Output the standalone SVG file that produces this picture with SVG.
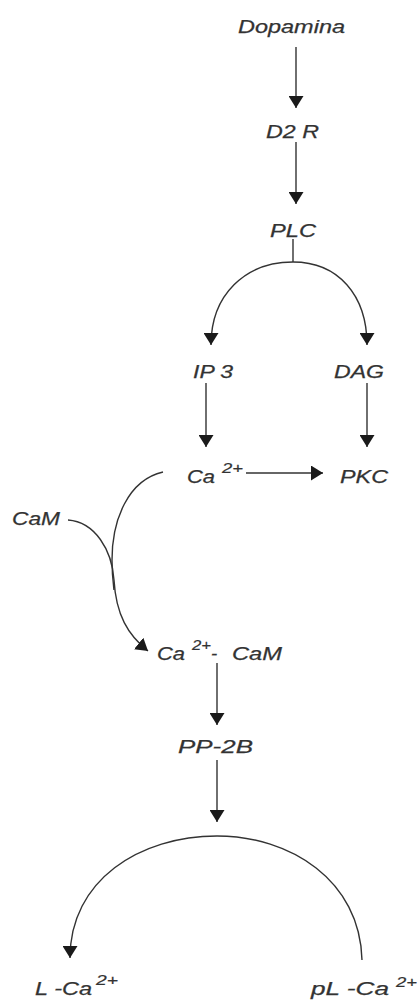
<svg xmlns="http://www.w3.org/2000/svg" width="418" height="1001" viewBox="0 0 418 1001">
<defs>
<style>
.t{font-family:"Liberation Sans",Arial,sans-serif;font-style:italic;font-size:18.5px;fill:#333333;stroke:#333333;stroke-width:0.25}
.s{font-family:"Liberation Sans",Arial,sans-serif;font-style:italic;font-size:15px;fill:#333333;stroke:#333333;stroke-width:0.2}
.c{fill:none;stroke:#333333;stroke-width:1.4}
</style>
<marker id="ah" viewBox="0 0 12 15" refX="12" refY="7.5" markerWidth="12" markerHeight="15" markerUnits="userSpaceOnUse" orient="auto">
<path d="M0,0 L12,7.5 L0,15 z" fill="#1a1a1a"/>
</marker>
</defs>
<rect width="418" height="1001" fill="#ffffff"/>
<g id="connectors">
<path class="c" d="M296,47 L296,108" marker-end="url(#ah)"/>
<path class="c" d="M296,142 L296,204" marker-end="url(#ah)"/>
<path class="c" d="M293,239 L293,262"/>
<path class="c" d="M293,262 C245,262 211,295 211,345" marker-end="url(#ah)"/>
<path class="c" d="M293,262 C338,262 367,295 367,345" marker-end="url(#ah)"/>
<path class="c" d="M206,383 L206,447" marker-end="url(#ah)"/>
<path class="c" d="M367,383 L367,447" marker-end="url(#ah)"/>
<path class="c" d="M246,473 L323,473" marker-end="url(#ah)"/>
<path class="c" d="M163,472 C128,480 112,520 112,560 C112,575 113,582 114,590"/>
<path class="c" d="M68,520 C95,522 112,550 114,580 C116,615 128,635 148,651" marker-end="url(#ah)"/>
<path class="c" d="M217,663 L217,725" marker-end="url(#ah)"/>
<path class="c" d="M217,760 L217,822" marker-end="url(#ah)"/>
<path class="c" d="M217,836 C140,836 70,880 70,958" marker-end="url(#ah)"/>
<path class="c" d="M217,836 C290,836 360,880 362,960"/>
</g>
<g id="dopamina"><text class="t" x="238" y="33" textLength="107" lengthAdjust="spacingAndGlyphs">Dopamina</text></g>
<g id="d2r"><text class="t" x="266" y="138" textLength="53" lengthAdjust="spacingAndGlyphs">D2 R</text></g>
<g id="plc"><text class="t" x="270" y="237" textLength="46" lengthAdjust="spacingAndGlyphs">PLC</text></g>
<g id="ip3"><text class="t" x="193" y="378" textLength="40" lengthAdjust="spacingAndGlyphs">IP 3</text></g>
<g id="dag"><text class="t" x="334" y="378" textLength="50" lengthAdjust="spacingAndGlyphs">DAG</text></g>
<g id="ca2"><text class="t" x="187" y="483" textLength="28" lengthAdjust="spacingAndGlyphs">Ca</text><text class="s" x="222" y="473" textLength="21" lengthAdjust="spacingAndGlyphs">2+</text></g>
<g id="pkc"><text class="t" x="340" y="483" textLength="48" lengthAdjust="spacingAndGlyphs">PKC</text></g>
<g id="cam"><text class="t" x="12" y="525" textLength="48" lengthAdjust="spacingAndGlyphs">CaM</text></g>
<g id="ca2cam"><text class="t" x="157" y="660" textLength="28" lengthAdjust="spacingAndGlyphs">Ca</text><text class="s" x="192" y="650" textLength="19" lengthAdjust="spacingAndGlyphs">2+</text><text class="t" x="211" y="660">-</text><text class="t" x="232" y="660" textLength="50" lengthAdjust="spacingAndGlyphs">CaM</text></g>
<g id="pp2b"><text class="t" x="178" y="753" textLength="75" lengthAdjust="spacingAndGlyphs">PP-2B</text></g>
<g id="lca"><text class="t" x="35" y="995" textLength="57" lengthAdjust="spacingAndGlyphs">L -Ca</text><text class="s" x="96" y="985" textLength="22" lengthAdjust="spacingAndGlyphs">2+</text></g>
<g id="plca"><text class="t" x="311" y="995" textLength="78" lengthAdjust="spacingAndGlyphs">pL -Ca</text><text class="s" x="396" y="987" textLength="21" lengthAdjust="spacingAndGlyphs">2+</text></g>
</svg>
